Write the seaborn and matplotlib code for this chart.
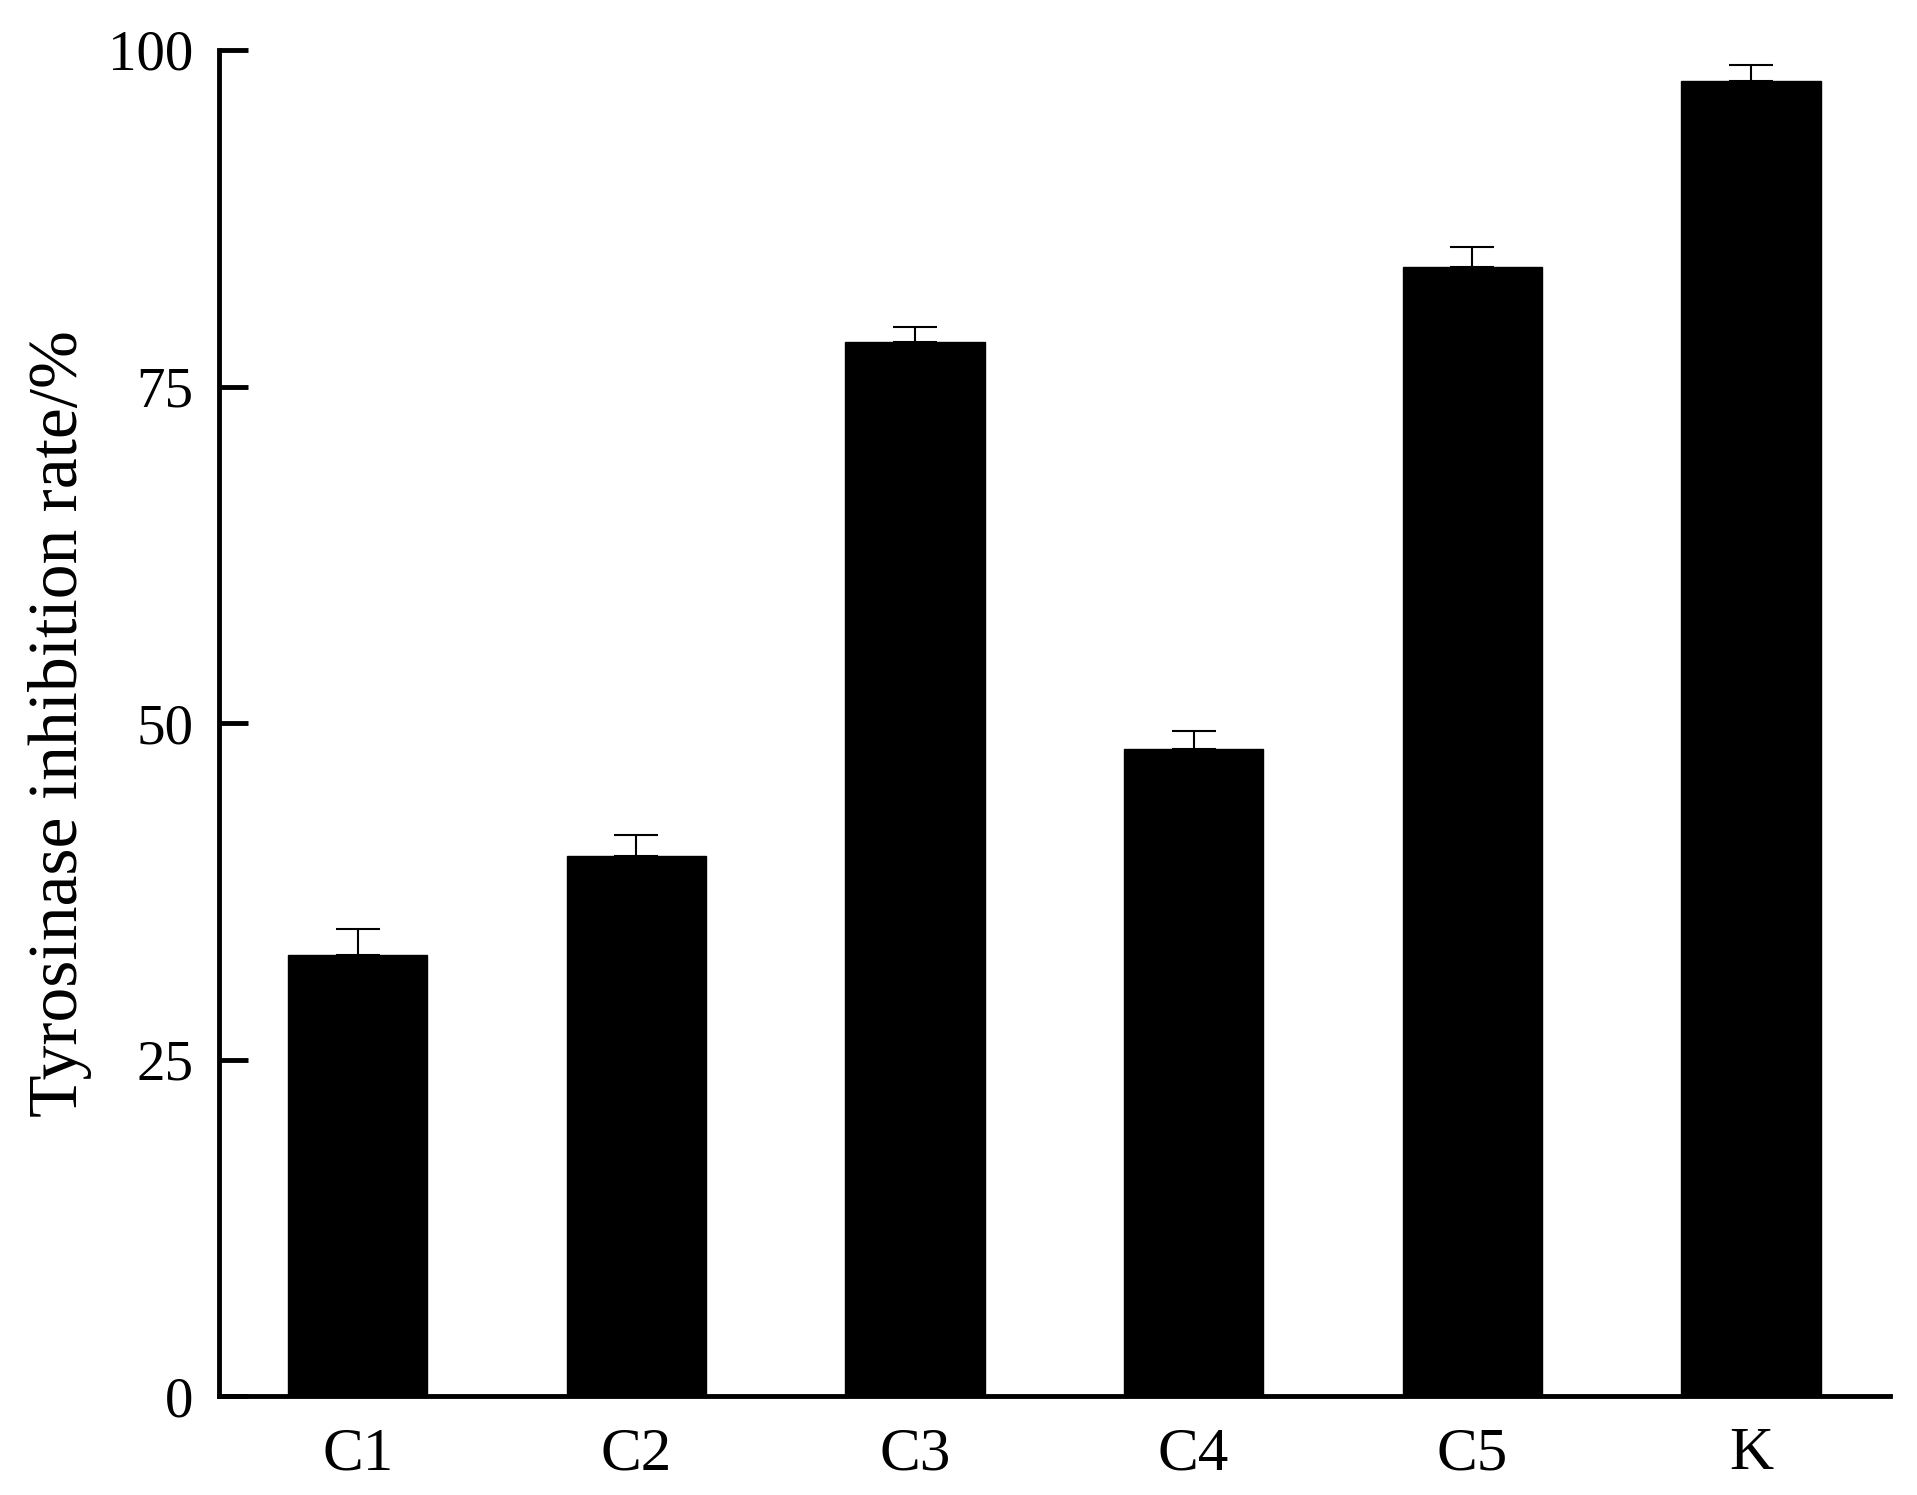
import numpy as np
import pandas as pd
import matplotlib
matplotlib.use("Agg")
import matplotlib.pyplot as plt
import seaborn as sns

# values
samples = ['C1', 'C2', 'C3', 'C4', 'C5', 'K']
inhibition = [32.8, 40.1, 78.3, 48.1, 83.9, 97.7]
errors = [1.9, 1.6, 1.1, 1.3, 1.5, 1.2]
y_ticks = [0, 25, 50, 75, 100]

sns.set_style('ticks')
plt.rcParams['font.family'] = ['Liberation Serif', 'DejaVu Serif']
plt.rcParams['text.color'] = 'black'
plt.rcParams['axes.labelcolor'] = 'black'
plt.rcParams['xtick.color'] = 'black'
plt.rcParams['ytick.color'] = 'black'
plt.rcParams['axes.edgecolor'] = 'black'

df = pd.DataFrame({'sample': samples, 'rate': inhibition})

fig = plt.figure(figsize=(19.17, 14.95), dpi=100)
ax = fig.add_axes([0.114, 0.066, 0.872, 0.9006])

sns.barplot(data=df, x='sample', y='rate', color='black', width=0.5,
            saturation=1, edgecolor='black', errorbar=None, ax=ax)

# upper error bars only
ax.errorbar(np.arange(len(samples)), inhibition,
            yerr=[np.zeros(len(errors)), errors],
            fmt='none', ecolor='black', elinewidth=1.5, capsize=16, capthick=1.5)

ax.set_xlim(-0.5, 5.5)
ax.set_ylim(0, 100)
ax.set_yticks(y_ticks)
ax.set_xlabel('')
ax.set_ylabel('Tyrosinase inhibition rate/%', fontsize=50, labelpad=12)

ax.tick_params(axis='y', direction='in', length=21, width=3.5, labelsize=41, pad=18)
ax.tick_params(axis='x', length=0, labelsize=44, pad=22)

sns.despine(ax=ax)
for side in ['left', 'bottom']:
    ax.spines[side].set_linewidth(3.5)

fig.savefig('out.png', dpi=100)
